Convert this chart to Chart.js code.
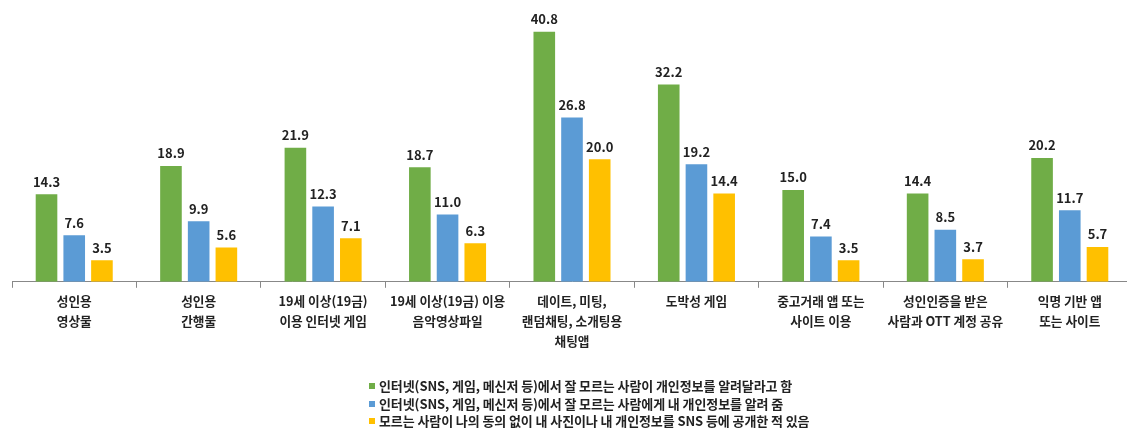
<!DOCTYPE html>
<html>
<head>
<meta charset="utf-8">
<script src="https://cdn.jsdelivr.net/npm/chart.js@4.4.1/dist/chart.umd.min.js"></script>
<style>
  body { margin: 0; background: #fff; overflow: hidden; }
  #wrap { position: relative; width: 1127px; height: 430px; overflow: hidden; }
  #legend { position: absolute; left: 369px; top: 377px; font-family: "Noto Sans CJK KR", sans-serif;
            font-size: 13px; font-weight: bold; color: #222; line-height: 17.5px; letter-spacing: -0.1px; }
  #legend span.box { display: inline-block; width: 6px; height: 6px; margin-right: 4px; vertical-align: 2px; }
</style>
</head>
<body>
<div id="wrap">
  <canvas id="myChart" width="1132" height="430"></canvas>
  <div id="legend"></div>
</div>
<script>
var categories = [
    ['성인용', '영상물'],
    ['성인용', '간행물'],
    ['19세 이상(19금)', '이용 인터넷 게임'],
    ['19세 이상(19금) 이용', '음악영상파일'],
    ['데이트, 미팅,', '랜덤채팅, 소개팅용', '채팅앱'],
    ['도박성 게임'],
    ['중고거래 앱 또는', '사이트 이용'],
    ['성인인증을 받은', '사람과 OTT 계정 공유'],
    ['익명 기반 앱', '또는 사이트']
];
var askedInfo = [14.3, 18.9, 21.9, 18.7, 40.8, 32.2, 15.0, 14.4, 20.2];
var gaveInfo = [7.6, 9.9, 12.3, 11.0, 26.8, 19.2, 7.4, 8.5, 11.7];
var postedInfo = [3.5, 5.6, 7.1, 6.3, 20.0, 14.4, 3.5, 3.7, 5.7];
var seriesNames = [
    '인터넷(SNS, 게임, 메신저 등)에서 잘 모르는 사람이 개인정보를 알려달라고 함',
    '인터넷(SNS, 게임, 메신저 등)에서 잘 모르는 사람에게 내 개인정보를 알려 줌',
    '모르는 사람이 나의 동의 없이 내 사진이나 내 개인정보를 SNS 등에 공개한 적 있음'
];
var colors = ['#70AD47', '#5B9BD5', '#FFC000'];

var font = '"Noto Sans CJK KR", sans-serif';

// value labels above every bar
var valueLabels = {
    id: 'valueLabels',
    afterDatasetsDraw: function(chart) {
        var ctx = chart.ctx;
        ctx.save();
        ctx.font = 'bold 13px ' + font;
        ctx.fillStyle = '#222';
        ctx.textAlign = 'center';
        ctx.textBaseline = 'bottom';
        chart.data.datasets.forEach(function(ds, i) {
            chart.getDatasetMeta(i).data.forEach(function(bar, j) {
                ctx.fillText(ds.data[j].toFixed(1), bar.x, bar.y - 6);
            });
        });
        ctx.restore();
    }
};

var ctx = document.getElementById('myChart').getContext('2d');

var myChart = new Chart(ctx, {
    type: 'bar',
    data: {
        labels: categories,
        datasets: [
            { label: seriesNames[0], data: askedInfo, backgroundColor: colors[0] },
            { label: seriesNames[1], data: gaveInfo, backgroundColor: colors[1] },
            { label: seriesNames[2], data: postedInfo, backgroundColor: colors[2] }
        ]
    },
    options: {
        responsive: false,
        animation: false,
        categoryPercentage: 0.668,
        barPercentage: 0.78,
        layout: { padding: { left: 12, right: 0, top: 0, bottom: 76 } },
        plugins: {
            legend: { display: false },
            tooltip: { enabled: false }
        },
        scales: {
            x: {
                grid: { drawOnChartArea: false, drawTicks: true, tickLength: 6, color: '#888' },
                border: { color: '#888' },
                ticks: {
                    padding: 3,
                    color: '#222',
                    font: { family: font, size: 12.7, weight: 'bold', lineHeight: 1.58 },
                    maxRotation: 0,
                    autoSkip: false
                }
            },
            y: {
                display: false,
                min: 0,
                max: 46
            }
        }
    },
    plugins: [valueLabels]
});

// legend rows, one per series
var legendHtml = '';
myChart.data.datasets.forEach(function(ds) {
    legendHtml += '<div><span class="box" style="background:' + ds.backgroundColor + '"></span>' + ds.label + '</div>';
});
document.getElementById('legend').innerHTML = legendHtml;
</script>
</body>
</html>
